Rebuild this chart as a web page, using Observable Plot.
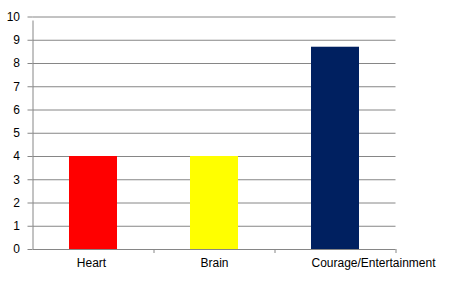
<!DOCTYPE html>
<html>
<head>
<meta charset="utf-8">
<script src="https://cdn.jsdelivr.net/npm/d3@7"></script>
<script src="https://cdn.jsdelivr.net/npm/@observablehq/plot@0.6"></script>
<style>
  html, body { margin: 0; padding: 0; background: #fff; }
  #chart svg { display: block; }
</style>
</head>
<body>
<div id="chart"></div>
<script>
const categories = ["Heart", "Brain", "Courage/Entertainment"];
const values = [4, 4, 8.7];
const colors = ["#FF0000", "#FFFF00", "#002060"];
const yTicks = [0, 1, 2, 3, 4, 5, 6, 7, 8, 9, 10];

const data = categories.map((c, i) => ({category: c, value: values[i], color: colors[i]}));

const W = 452, H = 291;
const mL = 32.5, mR = 56.5, mT = 16.5, mB = 42;
const step = (W - mL - mR) / categories.length;
const grid = "#868686";

const chart = Plot.plot({
  width: W,
  height: H,
  marginLeft: mL,
  marginRight: mR,
  marginTop: mT,
  marginBottom: mB,
  style: {fontFamily: "'Liberation Sans', Arial, sans-serif", fontSize: "12px", color: "#000", background: "#fff"},
  x: {domain: categories, paddingInner: 0.6, paddingOuter: 0.3, label: null},
  y: {domain: [0, 10], label: null},
  marks: [
    Plot.ruleY(yTicks, {y: d => d, stroke: grid, strokeWidth: 1}),
    Plot.barY(data, {x: "category", y: "value", fill: "color"}),
    Plot.ruleX(categories, {x: d => d, dx: -step / 2, y1: 0, y2: 10, stroke: grid, insetBottom: -4, filter: (d, i) => i === 0}),
    Plot.ruleX(categories, {x: d => d, dx: -step / 2, y1: 0, y2: 0, stroke: grid, insetBottom: -4, filter: (d, i) => i > 0}),
    Plot.ruleX(categories.slice(-1), {x: d => d, dx: step / 2, y1: 0, y2: 0, stroke: grid, insetBottom: -4}),
    Plot.axisY({ticks: yTicks, tickSize: 5, tickPadding: 8, stroke: grid, tickFormat: d => d, fill: "#000"}),
    Plot.axisX({ticks: categories.slice(0, 1), tickSize: 0, tickPadding: 9, dx: -2, fill: "#000"}),
    Plot.axisX({ticks: categories.slice(1, 2), tickSize: 0, tickPadding: 9, fill: "#000"}),
    Plot.axisX({ticks: categories.slice(2), tickSize: 0, tickPadding: 9, dx: 38, fill: "#000"})
  ]
});
document.getElementById("chart").appendChild(chart);
</script>
</body>
</html>
